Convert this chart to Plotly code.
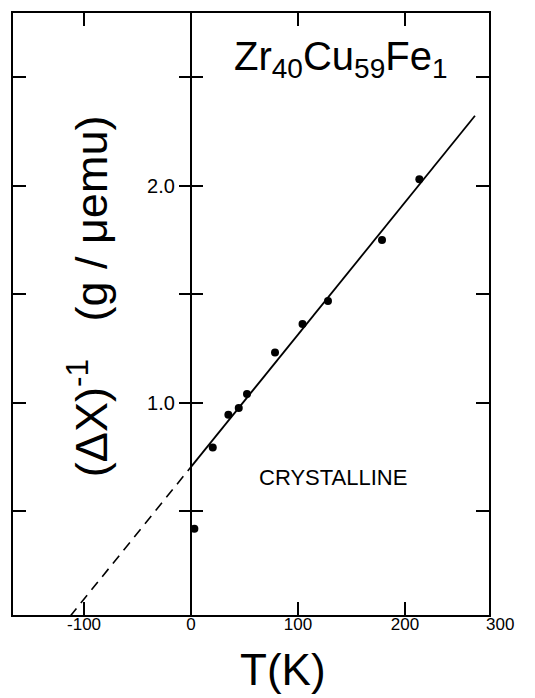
import plotly.graph_objects as go

# measured data: temperature (K) and inverse susceptibility difference (g/uemu)
T_data = [3.1, 20.3, 34.9, 44.6, 52.3, 78.5, 104.2, 128.0, 178.5, 213.4]
inv_chi = [0.42, 0.794, 0.945, 0.976, 1.04, 1.231, 1.362, 1.468, 1.749, 2.029]

# linear fit drawn in the figure (solid) and its extrapolation (dashed)
fit_T = [0.0, 265.4]
fit_y = [0.705, 2.321]
extrap_T = [-113.0, 0.0]
extrap_y = [0.017, 0.705]

x_ticks = [-100, 0, 100, 200]
x_tick_text = ["-100", "0", "100", "200"]
y_ticks = [0.5, 1.0, 1.5, 2.0, 2.5]
y_tick_text = ["", "1.0", "", "2.0", ""]

x_range = [-166.4, 278.5]
y_range = [0.023, 2.794]

FONT = "Liberation Sans, Arial, sans-serif"
zero_pos = (0 - x_range[0]) / (x_range[1] - x_range[0])

fig = go.Figure()
fig.add_trace(go.Scatter(x=extrap_T, y=extrap_y, mode="lines",
                         line=dict(color="black", width=1.6, dash="10px,7px"),
                         hoverinfo="skip"))
fig.add_trace(go.Scatter(x=fit_T, y=fit_y, mode="lines",
                         line=dict(color="black", width=1.8), hoverinfo="skip"))
fig.add_trace(go.Scatter(x=T_data, y=inv_chi, mode="markers",
                         marker=dict(color="black", size=8)))
# invisible traces so that the axes at T = 0 are drawn
fig.add_trace(go.Scatter(x=[0], y=[1], yaxis="y2", mode="markers",
                         marker=dict(opacity=0), hoverinfo="skip"))
fig.add_trace(go.Scatter(x=[0], y=[1], yaxis="y3", mode="markers",
                         marker=dict(opacity=0), hoverinfo="skip"))

fig.update_layout(
    width=535, height=698,
    margin=dict(l=13, r=46, t=11, b=83),
    paper_bgcolor="white", plot_bgcolor="white",
    showlegend=False,
    font=dict(family=FONT, color="black"),
    xaxis=dict(range=x_range, showgrid=False, zeroline=False,
               showline=True, linecolor="black", linewidth=2.2, mirror="ticks",
               ticks="inside", ticklen=13, tickwidth=2, tickcolor="black",
               tickvals=x_ticks, ticktext=x_tick_text,
               tickfont=dict(size=17, family=FONT), ticklabelstandoff=-8),
    yaxis=dict(range=y_range, showgrid=False, zeroline=False,
               showline=True, linecolor="black", linewidth=2.2, mirror="ticks",
               ticks="inside", ticklen=13, tickwidth=2, tickcolor="black",
               tickvals=y_ticks, showticklabels=False),
    yaxis2=dict(range=y_range, overlaying="y", anchor="free", position=zero_pos,
                side="left", showgrid=False, zeroline=False,
                showline=True, linecolor="black", linewidth=2.2,
                ticks="outside", ticklen=11, tickwidth=2, tickcolor="black",
                tickvals=y_ticks, ticktext=y_tick_text,
                tickfont=dict(size=20, family=FONT)),
    yaxis3=dict(range=y_range, overlaying="y", anchor="free", position=zero_pos,
                side="left", showgrid=False, zeroline=False, showline=False,
                ticks="inside", ticklen=11, tickwidth=2, tickcolor="black",
                tickvals=y_ticks, showticklabels=False),
)

annotations = [
    dict(text="300", x=1, y=0, xref="x domain", yref="y domain",
         xanchor="center", yanchor="top", xshift=11, yshift=2,
         showarrow=False, font=dict(size=17, family=FONT)),
    dict(text="T(K)", x=86, y=-0.090, xref="x", yref="paper",
         xanchor="center", yanchor="middle", showarrow=False,
         font=dict(size=44, family=FONT)),
    dict(text="(ΔΧ)<sup>-1</sup>   (g / μemu)", x=0.158, y=0.53,
         xref="paper", yref="paper", textangle=-90,
         xanchor="center", yanchor="middle", showarrow=False,
         font=dict(size=45, family=FONT)),
    dict(text="Zr<sub>40</sub>Cu<sub>59</sub>Fe<sub>1</sub>", x=140, y=2.58,
         xref="x", yref="y", xanchor="center", yanchor="middle",
         showarrow=False, font=dict(size=40, family=FONT)),
    dict(text="CRYSTALLINE", x=133, y=0.655, xref="x", yref="y",
         xanchor="center", yanchor="middle", showarrow=False,
         font=dict(size=22, family=FONT)),
]
fig.update_layout(annotations=annotations)
fig.write_html("out.html")
